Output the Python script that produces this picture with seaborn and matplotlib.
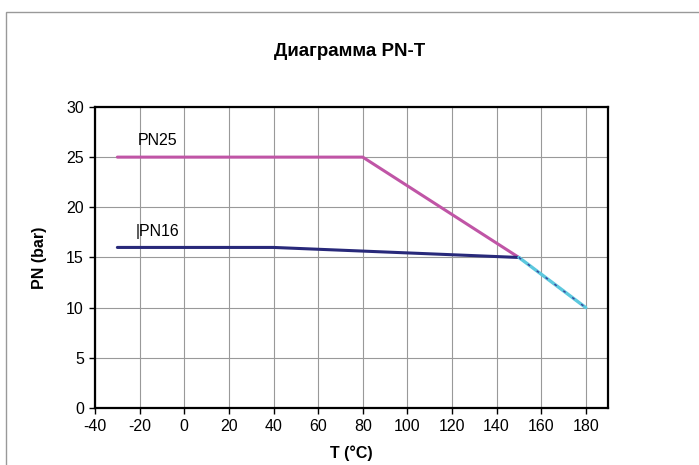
import matplotlib
matplotlib.use("Agg")
import matplotlib.pyplot as plt
import seaborn as sns
import pandas as pd
from matplotlib.patches import Rectangle

# data
t_pn25 = [-30, 80, 150]
p_pn25 = [25, 25, 15]
t_pn16 = [-30, 40, 150]
p_pn16 = [16, 16, 15]
t_tail = [150, 180]
p_tail = [15, 10]

x_ticks = list(range(-40, 181, 20))
y_ticks = list(range(0, 31, 5))

sns.set_theme(style="white")
plt.rcParams['font.family'] = ['Liberation Sans', 'DejaVu Sans']
plt.rcParams['axes.unicode_minus'] = False
plt.rcParams['text.color'] = 'black'
plt.rcParams['axes.labelcolor'] = 'black'

fig = plt.figure(figsize=(6.99, 4.65), dpi=100)
ax = fig.add_axes([0.136, 0.1226, 0.734, 0.6474])

# outer frame
fig.patches.append(Rectangle((0.009, -0.1), 1.2, 1.074, transform=fig.transFigure,
                             fill=False, edgecolor='#999999', linewidth=1.0))

df25 = pd.DataFrame({'T': t_pn25, 'PN': p_pn25})
df16 = pd.DataFrame({'T': t_pn16, 'PN': p_pn16})
dft = pd.DataFrame({'T': t_tail, 'PN': p_tail})

sns.lineplot(data=df25, x='T', y='PN', ax=ax, color='#C055A6', linewidth=2.2)
sns.lineplot(data=df16, x='T', y='PN', ax=ax, color='#28297A', linewidth=2.2)
sns.lineplot(data=dft, x='T', y='PN', ax=ax, color='#5CC8DE', linewidth=2.4)
sns.lineplot(data=dft, x='T', y='PN', ax=ax, color='#3A3F9A', linewidth=1.0,
             linestyle=(0, (2, 6)))

ax.set_xlim(-40, 190)
ax.set_ylim(0, 30)
ax.set_xticks(x_ticks)
ax.set_yticks(y_ticks)
ax.grid(True, color='#999999', linewidth=0.8)
ax.set_axisbelow(True)
for s in ax.spines.values():
    s.set_color('black')
    s.set_linewidth(1.6)
ax.tick_params(axis='both', which='major', direction='out', length=4, width=1,
               color='black', labelsize=11.5, labelcolor='black', pad=4,
               bottom=True, left=True)

ax.set_xlabel('T (°C)', fontsize=11.5, fontweight='bold', labelpad=8)
ax.set_ylabel('PN (bar)', fontsize=11.5, fontweight='bold', labelpad=14)

ax.text(-21, 26.2, 'PN25', fontsize=11.5, color='black')
ax.text(-22, 17.1, '|PN16', fontsize=11.5, color='black')

fig.text(0.5, 0.89, 'Диаграмма PN-T', ha='center', va='center',
         fontsize=13.5, fontweight='bold', color='black')

fig.savefig('out.png', dpi=100)
